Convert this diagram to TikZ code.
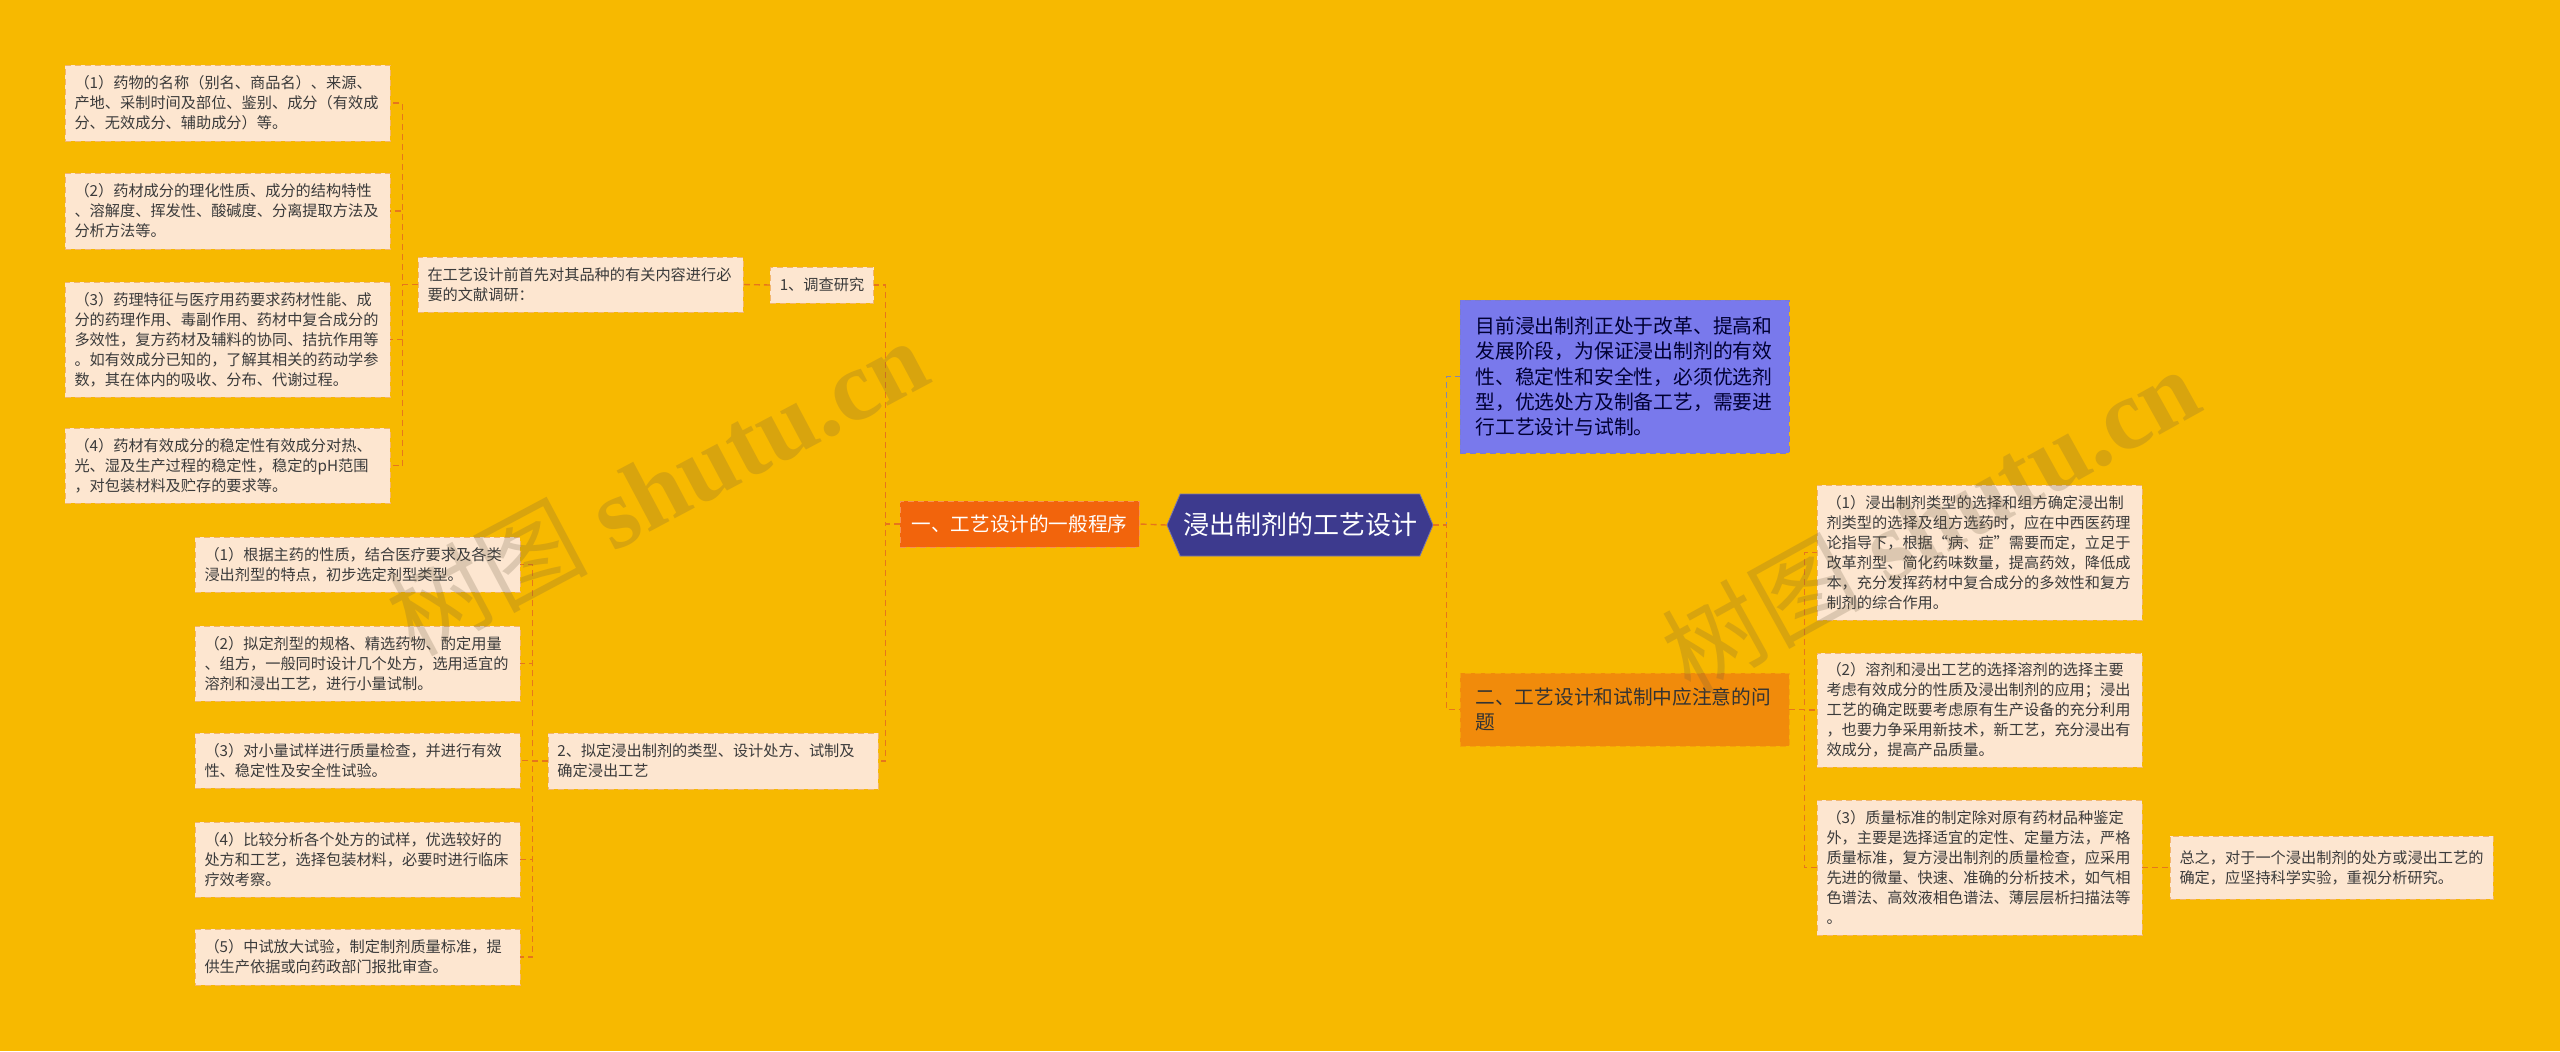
\documentclass[tikz,border=0pt]{standalone}
\usepackage{fontspec}
\setmainfont{Noto Sans CJK SC}
\newfontfamily\markfont{Liberation Serif}
\usetikzlibrary{shapes.symbols}
\definecolor{bgyellow}{HTML}{F7B900}
\definecolor{leaffill}{HTML}{FDE6D0}
\definecolor{leafline}{HTML}{F2B56E}
\definecolor{linkorange}{HTML}{E6761C}
\definecolor{linkblue}{HTML}{8484B0}
\definecolor{rootfill}{HTML}{3D3A8E}
\definecolor{redfill}{HTML}{F2640C}
\definecolor{bluefill}{HTML}{7979EC}
\definecolor{orangefill}{HTML}{F18B0B}
\definecolor{inktext}{HTML}{3B3B3B}
\definecolor{markbrown}{HTML}{6B5A40}
\tikzset{
  box/.style={draw=leafline, fill=leaffill, dash pattern=on 3pt off 2pt,
    text=inktext, font=\fontsize{7.6}{10}\selectfont, inner xsep=4.7pt, inner ysep=2pt},
  leaf/.style={box, align=left, text width=153pt},
  link/.style={draw=linkorange, line width=0.7pt, dash pattern=on 3pt off 2pt},
  watermark/.style={font=\fontsize{50}{50}\selectfont, text=markbrown, opacity=0.22}
}
\begin{document}
\begin{tikzpicture}[x=0.5pt,y=-0.5pt]
%%%%%%%%%%%%%%%%%%Draw Background%%%%%%%%%%%%%%%
\useasboundingbox (0,0) rectangle (2560,1051);
\fill[bgyellow] (0,0) rectangle (2560,1051);

%%%%%%%%%%%%%%%%%%Root and Main Branches%%%%%%%%%%%%%%%
\node[signal, signal to=west and east, signal pointer angle=134,
  fill=rootfill, draw=rootfill!70!white, text=white, font=\fontsize{13}{13}\selectfont,
  minimum width=133pt, minimum height=31pt, inner sep=0pt] (root) at (1300,525) {浸出制剂的工艺设计};
\node[draw=redfill!70!white, fill=redfill, dash pattern=on 3pt off 2pt, text=white,
  font=\fontsize{9.8}{12}\selectfont, minimum width=119.5pt, minimum height=23pt] (branch1) at (1019.5,524) {一、工艺设计的一般程序};
\node[draw=bluefill!70!gray, fill=bluefill, dash pattern=on 3pt off 2pt, text=black!80!blue,
  font=\fontsize{9.9}{12.6}\selectfont, align=left, text width=149pt, inner xsep=7.75pt,
  minimum height=76.5pt] (blue) at (1624.5,376.5) {目前浸出制剂正处于改革、提高和\\发展阶段，为保证浸出制剂的有效\\性、稳定性和安全性，必须优选剂\\型，优选处方及制备工艺，需要进\\行工艺设计与试制。};
\node[draw=orangefill!80!yellow, fill=orangefill, dash pattern=on 3pt off 2pt, text=black!80,
  font=\fontsize{9.85}{12.5}\selectfont, align=left, text width=149pt, inner xsep=7.75pt,
  minimum height=36.5pt] (branch2) at (1624.5,709.5) {二、工艺设计和试制中应注意的问\\题};

%%%%%%%%%%%%%%Branch One: Survey%%%%%%%%%%%%%%
\node[box, minimum width=51pt, minimum height=18pt] (survey) at (822,285) {1、调查研究};
\node[leaf, minimum height=27.5pt] (desc) at (580.5,284.5) {在工艺设计前首先对其品种的有关内容进行必\\要的文献调研：};
\node[leaf, minimum height=38pt] (up1) at (227.5,103) {（1）药物的名称（别名、商品名）、来源、\\产地、采制时间及部位、鉴别、成分（有效成\\分、无效成分、辅助成分）等。};
\node[leaf, minimum height=38pt] (up2) at (227.5,211) {（2）药材成分的理化性质、成分的结构特性\\、溶解度、挥发性、酸碱度、分离提取方法及\\分析方法等。};
\node[leaf, minimum height=57.5pt] (up3) at (227.5,339.5) {（3）药理特征与医疗用药要求药材性能、成\\分的药理作用、毒副作用、药材中复合成分的\\多效性，复方药材及辅料的协同、拮抗作用等\\。如有效成分已知的，了解其相关的药动学参\\数，其在体内的吸收、分布、代谢过程。};
\node[leaf, minimum height=37.5pt] (up4) at (227.5,465.5) {（4）药材有效成分的稳定性有效成分对热、\\光、湿及生产过程的稳定性，稳定的pH范围\\，对包装材料及贮存的要求等。};

%%%%%%%%%%%%%%Branch One: Drafting%%%%%%%%%%%%%%
\node[leaf, text width=155.6pt, minimum height=28pt] (draft) at (713,761) {2、拟定浸出制剂的类型、设计处方、试制及\\确定浸出工艺};
\node[leaf, minimum height=27.5pt] (low1) at (357.5,564.5) {（1）根据主药的性质，结合医疗要求及各类\\浸出剂型的特点，初步选定剂型类型。};
\node[leaf, minimum height=37.5pt] (low2) at (357.5,663.5) {（2）拟定剂型的规格、精选药物、酌定用量\\、组方，一般同时设计几个处方，选用适宜的\\溶剂和浸出工艺，进行小量试制。};
\node[leaf, minimum height=27.5pt] (low3) at (357.5,760.5) {（3）对小量试样进行质量检查，并进行有效\\性、稳定性及安全性试验。};
\node[leaf, minimum height=37.5pt] (low4) at (357.5,859.5) {（4）比较分析各个处方的试样，优选较好的\\处方和工艺，选择包装材料，必要时进行临床\\疗效考察。};
\node[leaf, minimum height=28pt] (low5) at (357.5,957) {（5）中试放大试验，制定制剂质量标准，提\\供生产依据或向药政部门报批审查。};

%%%%%%%%%%%%%%Branch Two%%%%%%%%%%%%%%
\node[leaf, minimum height=67.5pt] (right1) at (1979.5,552.5) {（1）浸出制剂类型的选择和组方确定浸出制\\剂类型的选择及组方选药时，应在中西医药理\\论指导下，根据“病、症”需要而定，立足于\\改革剂型、简化药味数量，提高药效，降低成\\本，充分发挥药材中复合成分的多效性和复方\\制剂的综合作用。};
\node[leaf, minimum height=57pt] (right2) at (1979.5,710) {（2）溶剂和浸出工艺的选择溶剂的选择主要\\考虑有效成分的性质及浸出制剂的应用；浸出\\工艺的确定既要考虑原有生产设备的充分利用\\，也要力争采用新技术，新工艺，充分浸出有\\效成分，提高产品质量。};
\node[leaf, minimum height=67.5pt] (right3) at (1979.5,867.5) {（3）质量标准的制定除对原有药材品种鉴定\\外，主要是选择适宜的定性、定量方法，严格\\质量标准，复方浸出制剂的质量检查，应采用\\先进的微量、快速、准确的分析技术，如气相\\色谱法、高效液相色谱法、薄层层析扫描法等\\。};
\node[leaf, text width=152pt, minimum height=31.5pt] (summary) at (2331.5,867.5) {总之，对于一个浸出制剂的处方或浸出工艺的\\确定，应坚持科学实验，重视分析研究。};

%%%%%%%%%%%%%%Draw Links%%%%%%%%%%%%%%
\draw[link] (root.west) -- (branch1.east);
\draw[link] (branch1.west) -- ++(-14,0) |- (survey.east);
\draw[link] (branch1.west) -- ++(-14,0) |- (draft.east);
\draw[link] (survey.west) -- (desc.east);
\foreach \n in {up1,up2,up3,up4}
  \draw[link] (desc.west) -- ++(-15,0) |- (\n.east);
\foreach \n in {low1,low2,low3,low4,low5}
  \draw[link] (draft.west) -- ++(-15,0) |- (\n.east);
\draw[link, draw=linkblue] (root.east) -- ++(13,0) |- (blue.west);
\draw[link] (root.east) -- ++(13,0) |- (branch2.west);
\foreach \n in {right1,right2,right3}
  \draw[link] (branch2.east) -- ++(15,0) |- (\n.west);
\draw[link] (right3.east) -- (summary.west);

%%%%%%%%%%%%%%Watermarks%%%%%%%%%%%%%%
\node[watermark, rotate=28] (mark1) at (657,486) {树图{\markfont\bfseries\ shutu.cn}};
\node[watermark, rotate=29] (mark2) at (1930,519) {树图{\markfont\bfseries\ shutu.cn}};
\end{tikzpicture}
\end{document}
